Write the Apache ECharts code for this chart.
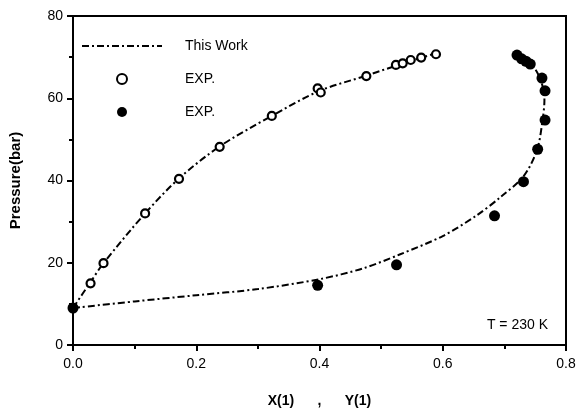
<!DOCTYPE html>
<html>
<head>
<meta charset="utf-8">
<script src="https://cdn.jsdelivr.net/npm/echarts@6/dist/echarts.min.js"></script>
<style>html,body{margin:0;padding:0;background:#fff}#c{width:582px;height:414px}</style>
</head>
<body>
<div id="c"></div>
<script>
// Experimental liquid-phase points X(1), Pressure (open circles)
const expLiquidX = [0.0285, 0.0495, 0.117, 0.172, 0.238, 0.3226, 0.397, 0.402, 0.476, 0.524, 0.535, 0.548, 0.565, 0.589];
const expLiquidP = [15.0, 19.9, 32.0, 40.4, 48.2, 55.7, 62.4, 61.4, 65.4, 68.1, 68.5, 69.3, 69.9, 70.7];
// Experimental vapour-phase points Y(1), Pressure (filled circles)
const expVaporX = [0.0, 0.397, 0.525, 0.684, 0.731, 0.754, 0.766, 0.766, 0.761, 0.742, 0.735, 0.728, 0.7205];
const expVaporP = [9.0, 14.5, 19.5, 31.4, 39.7, 47.6, 54.7, 61.8, 64.9, 68.3, 69.0, 69.6, 70.5];
// Model curve ("This Work") – bubble branch
const bubbleX = [0.0, 0.028, 0.05, 0.117, 0.172, 0.238, 0.32, 0.40, 0.476, 0.53, 0.59];
const bubbleP = [9.0, 15.2, 20.0, 32.0, 40.5, 48.3, 55.5, 61.8, 65.5, 68.2, 71.0];
// Model curve ("This Work") – dew branch
const dewX = [0.0, 0.1, 0.2, 0.3, 0.4, 0.47, 0.53, 0.6, 0.655, 0.694, 0.731, 0.753, 0.762, 0.765, 0.76, 0.748, 0.73, 0.72];
const dewP = [9.0, 10.6, 12.1, 13.6, 16.0, 18.6, 22.0, 26.5, 31.5, 36.0, 41.0, 47.4, 54.7, 59.6, 64.0, 67.5, 70.0, 70.8];
// Axis ticks
const xTicks = [0.0, 0.2, 0.4, 0.6, 0.8];
const yTicks = [0, 20, 40, 60, 80];

const zip = (a, b) => a.map((v, i) => [v, b[i]]);
const font = '"Liberation Sans", Arial, sans-serif';
const dashDot = [7, 3, 2, 3];

const chart = echarts.init(document.getElementById('c'));
chart.setOption({
  animation: false,
  backgroundColor: '#fff',
  grid: { left: 70, right: 16, top: 16, bottom: 69, show: true, borderColor: '#000', borderWidth: 2, backgroundColor: 'transparent' },
  xAxis: {
    type: 'value', min: xTicks[0], max: xTicks[xTicks.length - 1], interval: 0.2,
    axisLine: { show: true, onZero: false, lineStyle: { color: '#000', width: 2 } },
    axisTick: { show: true, inside: false, length: 6, lineStyle: { color: '#000', width: 2 } },
    minorTick: { show: true, splitNumber: 2, length: 4, lineStyle: { color: '#000', width: 2 } },
    splitLine: { show: false },
    axisLabel: { color: '#000', fontFamily: font, fontSize: 14, margin: 12, formatter: v => v.toFixed(1) },
    name: 'X(1)      ,      Y(1)', nameLocation: 'middle', nameGap: 49,
    nameTextStyle: { color: '#000', fontFamily: font, fontSize: 14, fontWeight: 'bold' }
  },
  yAxis: {
    type: 'value', min: yTicks[0], max: yTicks[yTicks.length - 1], interval: 20,
    axisLine: { show: true, onZero: false, lineStyle: { color: '#000', width: 2 } },
    axisTick: { show: true, inside: false, length: 6, lineStyle: { color: '#000', width: 2 } },
    minorTick: { show: true, splitNumber: 2, length: 4, lineStyle: { color: '#000', width: 2 } },
    splitLine: { show: false },
    axisLabel: { color: '#000', fontFamily: font, fontSize: 14, margin: 10 },
    name: 'Pressure(bar)', nameLocation: 'middle', nameGap: 50, nameRotate: 90,
    nameTextStyle: { color: '#000', fontFamily: font, fontSize: 15, fontWeight: 'bold' }
  },
  legend: {
    orient: 'vertical', left: 76, top: 34, itemGap: 19, itemWidth: 80, itemHeight: 10,
    textStyle: { color: '#000', fontFamily: font, fontSize: 14, padding: [0, 0, 0, 18] },
    formatter: n => n.startsWith('EXP.') ? 'EXP.' : n,
    data: [
      { name: 'This Work', itemStyle: { opacity: 0 } },
      { name: 'EXP. liquid' },
      { name: 'EXP. vapour' }
    ]
  },
  graphic: [{
    type: 'text', right: 34, top: 318,
    style: { text: 'T = 230 K', fill: '#000', font: '14px ' + font }
  }],
  series: [
    { name: 'This Work', type: 'line', data: zip(bubbleX, bubbleP), smooth: 0.3, showSymbol: false, symbol: 'none',
      itemStyle: { color: '#000' },
      lineStyle: { color: '#000', width: 2, type: dashDot }, z: 2 },
    { name: 'This Work', type: 'line', data: zip(dewX, dewP), smooth: 0.3, showSymbol: false, symbol: 'none',
      itemStyle: { color: '#000' },
      lineStyle: { color: '#000', width: 2, type: dashDot }, z: 2 },
    { name: 'EXP. liquid', type: 'scatter', data: zip(expLiquidX, expLiquidP), symbol: 'circle', symbolSize: 8,
      itemStyle: { color: '#fff', borderColor: '#000', borderWidth: 2.2, opacity: 1 }, z: 3 },
    { name: 'EXP. vapour', type: 'scatter', data: zip(expVaporX, expVaporP), symbol: 'circle', symbolSize: 11,
      itemStyle: { color: '#000', borderColor: '#000', borderWidth: 0, opacity: 1 }, z: 3 }
  ]
});
</script>
</body>
</html>
